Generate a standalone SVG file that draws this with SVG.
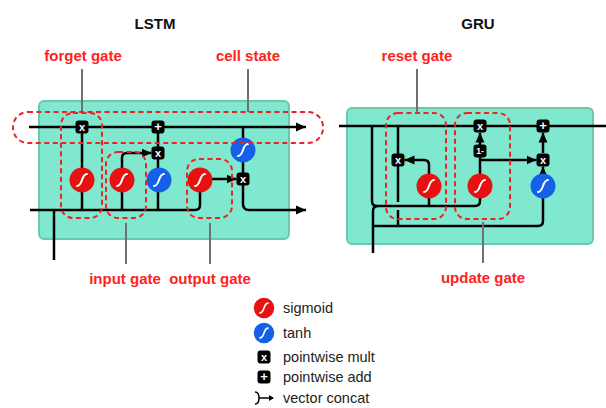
<svg xmlns="http://www.w3.org/2000/svg" xmlns:xlink="http://www.w3.org/1999/xlink" width="606" height="408" viewBox="0 0 606 408">
<style>
.cellbox{fill:#80e8cf;stroke:#6cc8ad;stroke-width:2}
.wire{fill:none;stroke:#000;stroke-width:2.5}
.arr{marker-end:url(#ah)}
.dash{fill:none;stroke:#ee2222;stroke-width:2;stroke-dasharray:5 3.5}
.ptr{fill:none;stroke:#707070;stroke-width:2}
.title{font-family:"Liberation Sans",Arial,sans-serif;font-weight:bold;font-size:15px;fill:#111;text-anchor:middle}
.lbl{font-family:"Liberation Sans",Arial,sans-serif;font-weight:bold;font-size:15px;fill:#ff2222;text-anchor:middle}
.leg{font-family:"Liberation Sans",Arial,sans-serif;font-size:14.5px;fill:#222}
.op{font-family:"Liberation Sans",Arial,sans-serif;font-weight:bold;fill:#fff;text-anchor:middle}
.glyph{fill:none;stroke:#fff;stroke-width:2;stroke-linecap:round}
</style>
<defs>
<marker id="ah" markerUnits="userSpaceOnUse" markerWidth="10" markerHeight="10" viewBox="0 0 10 10" refX="10" refY="5" orient="auto">
<path d="M0,0.5 L10,5 L0,9.5 z" fill="#000"/>
</marker>
<g id="sig">
<circle r="12.5" fill="#e81010"/>
<path class="glyph" d="M-5,6 C1,6 -1,-6 5,-6"/>
</g>
<g id="tanh">
<circle r="12.5" fill="#1560e8"/>
<path class="glyph" d="M-5,6 C1,6 -1,-6 5,-6"/>
</g>
<g id="mul">
<rect x="-6.5" y="-6.5" width="13" height="13" rx="3" fill="#000"/>
<text y="3.8" class="op" font-size="11">x</text>
</g>
<g id="add">
<rect x="-6.5" y="-6.5" width="13" height="13" rx="3" fill="#000"/>
<text y="4.3" class="op" font-size="13">+</text>
</g>
</defs>
<rect width="606" height="408" fill="#fff"/>

<text x="155" y="29" class="title">LSTM</text>
<text x="478" y="29" class="title">GRU</text>

<g id="lstm-box"><rect class="cellbox" x="39" y="101" width="250" height="138" rx="5"/></g>
<g id="gru-box"><rect class="cellbox" x="347" y="108" width="246" height="136" rx="5"/></g>

<g id="connectors">
<path class="wire arr" d="M29,127 H306"/>
<path class="wire" d="M82,210 V127"/>
<path class="wire" d="M122,210 V180"/>
<path class="wire arr" d="M122,170 V158 Q122,153 127,153 H151.5"/>
<path class="wire" d="M158,210 V153"/>
<path class="wire" d="M158,153 V127"/>
<path class="wire" d="M30,210 H195 Q200,210 200,205 V180"/>
<path class="wire arr" d="M210,179 H236.5"/>
<path class="wire" d="M243,127 V179"/>
<path class="wire arr" d="M243,179 V204 Q243,210 249,210 H306"/>
<path class="wire" d="M54,210 V260"/>
<path class="wire" d="M339,126 H606"/>
<path class="wire" d="M372,126 V201 Q372,206 377,206 H475 Q480,206 480,201 V186"/>
<path class="wire" d="M373,253 V211 Q373,206 378,206"/>
<path class="wire" d="M429,206 V186"/>
<path class="wire" d="M373,226 H538 Q543,226 543,221 V186"/>
<path class="wire" d="M398,126 V202"/>
<path class="wire" d="M398,210 V226"/>
<path class="wire arr" d="M429,186 V165 Q429,160 424,160 H404.5"/>
<path class="wire" d="M480,186 V151"/>
<path class="wire arr" d="M480,160 H536.5"/>
<path class="wire arr" d="M480,145 V132.5"/>
<path class="wire arr" d="M543,186 V166.5"/>
<path class="wire arr" d="M543,153 V132.5"/>
<path class="ptr" d="M82,69 V112"/>
<path class="ptr" d="M248,69 V112"/>
<path class="ptr" d="M126,223 V264"/>
<path class="ptr" d="M210,223 V264"/>
<path class="ptr" d="M417,69 V113"/>
<path class="ptr" d="M483,222 V263"/>
</g>

<g id="lstm-forget-mult"><use xlink:href="#mul" x="82" y="127"/></g>
<g id="lstm-add"><use xlink:href="#add" x="158" y="127"/></g>
<g id="lstm-input-mult"><use xlink:href="#mul" x="158" y="153"/></g>
<g id="lstm-forget-sigmoid"><use xlink:href="#sig" x="82" y="180"/></g>
<g id="lstm-input-sigmoid"><use xlink:href="#sig" x="122" y="180"/></g>
<g id="lstm-candidate-tanh"><use xlink:href="#tanh" x="159" y="180"/></g>
<g id="lstm-output-sigmoid"><use xlink:href="#sig" x="200" y="180"/></g>
<g id="lstm-cell-tanh"><use xlink:href="#tanh" x="243" y="150"/></g>
<g id="lstm-output-mult"><use xlink:href="#mul" x="243" y="179"/></g>

<g id="gru-reset-mult"><use xlink:href="#mul" x="398" y="160"/></g>
<g id="gru-update-mult"><use xlink:href="#mul" x="480" y="126"/></g>
<g id="gru-one-minus">
<rect x="473.5" y="144.5" width="13" height="13" rx="3" fill="#000"/>
<text x="480" y="154" class="op" font-size="8.5">1-</text>
</g>
<g id="gru-add"><use xlink:href="#add" x="543" y="126"/></g>
<g id="gru-cand-mult"><use xlink:href="#mul" x="543" y="160"/></g>
<g id="gru-reset-sigmoid"><use xlink:href="#sig" x="429" y="186"/></g>
<g id="gru-update-sigmoid"><use xlink:href="#sig" x="480" y="186"/></g>
<g id="gru-tanh"><use xlink:href="#tanh" x="543" y="186"/></g>

<g id="gates">
<rect class="dash" x="13" y="112" width="310" height="31" rx="15"/>
<rect class="dash" x="61" y="113" width="41" height="105" rx="12"/>
<rect class="dash" x="106" y="152" width="40" height="66" rx="12"/>
<rect class="dash" x="187" y="159" width="45" height="59" rx="12"/>
<rect class="dash" x="386" y="113" width="60" height="106" rx="12"/>
<rect class="dash" x="455" y="113" width="55" height="106" rx="12"/>
</g>

<g id="labels">
<text x="83" y="61" class="lbl">forget gate</text>
<text x="248" y="61" class="lbl">cell state</text>
<text x="125" y="284" class="lbl">input gate</text>
<text x="210" y="284" class="lbl">output gate</text>
<text x="417" y="61" class="lbl">reset gate</text>
<text x="483" y="283" class="lbl">update gate</text>
</g>

<g id="legend">
<use xlink:href="#sig" x="264" y="308" transform="translate(264,308) scale(0.82) translate(-264,-308)"/>
<text x="283" y="313" class="leg">sigmoid</text>
<use xlink:href="#tanh" x="264" y="333" transform="translate(264,333) scale(0.82) translate(-264,-333)"/>
<text x="283" y="338" class="leg">tanh</text>
<use xlink:href="#mul" x="264" y="357"/>
<text x="283" y="362" class="leg">pointwise mult</text>
<use xlink:href="#add" x="264" y="377"/>
<text x="283" y="382" class="leg">pointwise add</text>
<path d="M255,392 Q259,392 259,398 Q259,404 255,404" fill="none" stroke="#000" stroke-width="1.5"/>
<path d="M259,398 H273" fill="none" stroke="#000" stroke-width="1.5"/>
<path d="M269,395 L274,398 L269,401 z" fill="#000"/>
<text x="283" y="403" class="leg">vector concat</text>
</g>
</svg>
